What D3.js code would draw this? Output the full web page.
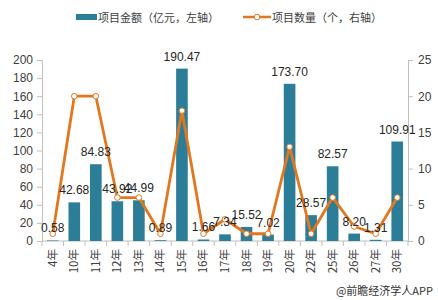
<!DOCTYPE html>
<html><head><meta charset="utf-8">
<script src="https://cdn.jsdelivr.net/npm/d3@7"></script>
<style>
body{margin:0;background:#fff;}
svg{display:block;}
</style></head>
<body>
<svg id="c" width="438" height="300"></svg>
<script>
const categories = ["4年","10年","11年","12年","13年","14年","15年","16年","17年","18年","19年","20年","22年","25年","26年","27年","30年"];
const amounts = [0.58,42.68,84.83,43.92,44.99,0.89,190.47,1.66,7.34,15.52,7.02,173.70,28.57,82.57,8.20,1.31,109.91];
const counts = [1,20,20,6,6,1,18,1,3,1,1,13,1,6,2,1,6];
const leftTicks = [0,20,40,60,80,100,120,140,160,180,200];
const rightTicks = [0,5,10,15,20,25];
const legendLabels = ["项目金额（亿元，左轴）","项目数量（个，右轴）"];
const sourceText = "@前瞻经济学人APP";

const barColor = "#2C7E98", lineColor = "#E2771F", axisColor = "#BFBFBF", textColor = "#404040";
const numFont = "'Liberation Sans', Arial, sans-serif";
const cjkFont = "'Noto Sans CJK SC', sans-serif";

const svg = d3.select("#c");
const m = {left:42, right:408, top:60, bottom:241};

const x = d3.scaleBand().domain(categories).range([m.left, m.right]).paddingInner(0.46).paddingOuter(0.23);
const yL = d3.scaleLinear().domain([0,200]).range([m.bottom, m.top]);
const yR = d3.scaleLinear().domain([0,25]).range([m.bottom, m.top]);

// left axis
const gL = svg.append("g").attr("transform",`translate(${m.left},0)`)
  .call(d3.axisLeft(yL).tickValues(leftTicks).tickSize(5).tickPadding(4));
gL.selectAll("path,line").attr("stroke",axisColor);
gL.selectAll("text").attr("font-family",numFont).attr("font-size",12).attr("fill",textColor);

// right axis
const gR = svg.append("g").attr("transform",`translate(${m.right},0)`)
  .call(d3.axisRight(yR).tickValues(rightTicks).tickSize(5).tickPadding(5));
gR.selectAll("path,line").attr("stroke",axisColor);
gR.selectAll("text").attr("font-family",numFont).attr("font-size",12).attr("fill",textColor);

// bottom axis
const bstep = x.step();
const gB = svg.append("g").attr("transform",`translate(0,${m.bottom})`);
gB.append("line").attr("x1",m.left).attr("x2",m.right).attr("stroke",axisColor);
const xTickPos = d3.range(categories.length+1).map(i => m.left + i*(m.right-m.left)/categories.length);
gB.selectAll(".tk").data(xTickPos).join("line").attr("x1",d=>d).attr("x2",d=>d).attr("y1",0).attr("y2",5).attr("stroke",axisColor);
gB.selectAll(".lab").data(categories).join("text")
  .attr("transform",d=>`translate(${x(d)+x.bandwidth()/2+4},8) rotate(-90)`)
  .attr("text-anchor","end")
  .attr("font-family",cjkFont).attr("font-size",11.5).attr("fill",textColor)
  .text(d=>d);

// bars
svg.selectAll(".bar").data(amounts).join("rect")
  .attr("x",(d,i)=>x(categories[i]))
  .attr("width",x.bandwidth())
  .attr("y",d=>yL(d))
  .attr("height",d=>m.bottom-yL(d))
  .attr("fill",barColor);

// line
const line = d3.line().x((d,i)=>x(categories[i])+x.bandwidth()/2).y(d=>yR(d));
svg.append("path").datum(counts).attr("d",line).attr("fill","none").attr("stroke",lineColor).attr("stroke-width",2.8).attr("stroke-linejoin","round");
svg.selectAll(".pt").data(counts).join("circle")
  .attr("cx",(d,i)=>x(categories[i])+x.bandwidth()/2).attr("cy",d=>yR(d)).attr("r",2.8)
  .attr("fill","#fff").attr("stroke",lineColor).attr("stroke-width",1);

// data labels
svg.selectAll(".dl").data(amounts).join("text")
  .attr("x",(d,i)=>x(categories[i])+x.bandwidth()/2)
  .attr("y",d=>yL(d)-8)
  .attr("text-anchor","middle")
  .attr("font-family",numFont).attr("font-size",12).attr("fill","#262626")
  .text(d=>d.toFixed(2));

// legend
const lg = svg.append("g");
lg.append("rect").attr("x",76).attr("y",14).attr("width",21).attr("height",6).attr("fill",barColor);
lg.append("text").attr("x",98).attr("y",21.5).attr("font-family",cjkFont).attr("font-size",11).attr("fill",textColor).text(legendLabels[0]);
lg.append("line").attr("x1",243).attr("x2",271).attr("y1",17).attr("y2",17).attr("stroke",lineColor).attr("stroke-width",2.5);
lg.append("circle").attr("cx",257).attr("cy",17).attr("r",2.8).attr("fill","#fff").attr("stroke",lineColor);
lg.append("text").attr("x",272).attr("y",21.5).attr("font-family",cjkFont).attr("font-size",11).attr("fill",textColor).text(legendLabels[1]);

// source
svg.append("text").attr("x",433).attr("y",295).attr("text-anchor","end")
  .attr("font-family",cjkFont).attr("font-size",11).attr("fill","#333").text(sourceText);
</script>
</body></html>
